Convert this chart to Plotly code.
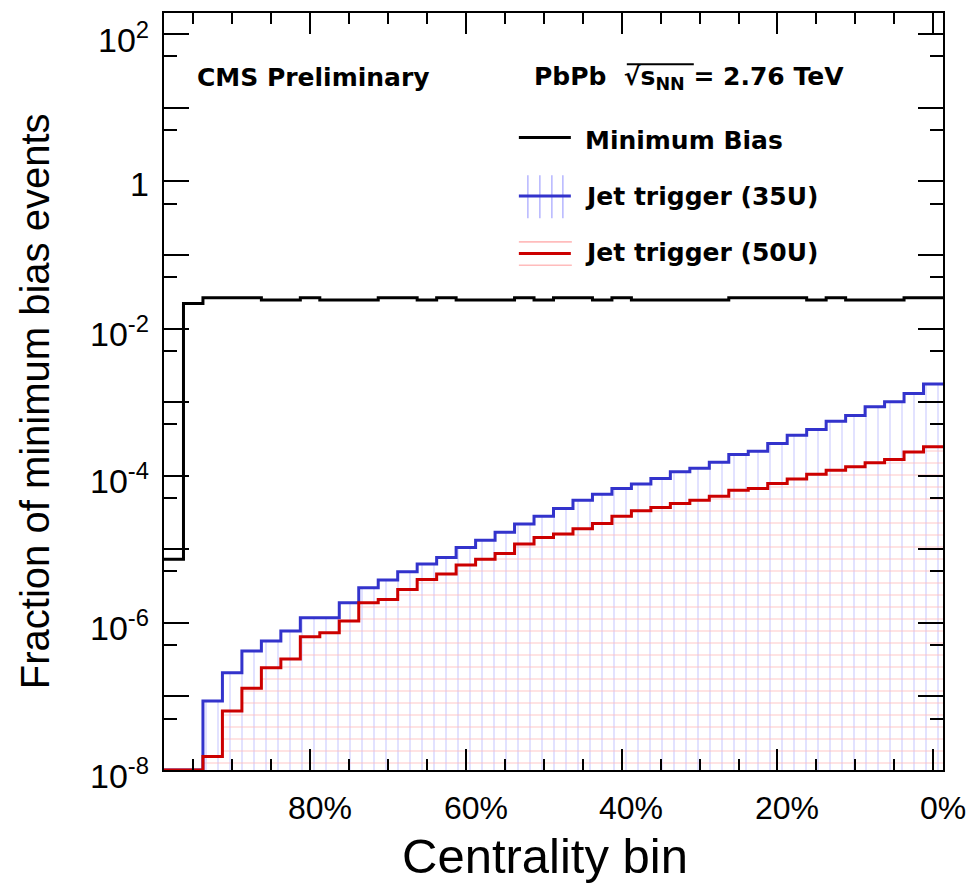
import plotly.graph_objects as go

# ---------------- data ----------------
n_bins = 40
bin_width = 2.5  # % centrality per bin
bin_edges = [100 - bin_width * i for i in range(n_bins + 1)]   # 100% ... 0%
bin_centers = [e - bin_width / 2 for e in bin_edges[:-1]]

min_bias = [7.3e-6, 0.0219,
            0.0262, 0.0262, 0.0262, 0.0245, 0.0245, 0.0262, 0.0245, 0.0245,
            0.0245, 0.0262, 0.0262, 0.0245, 0.0262, 0.0245, 0.0245, 0.0245,
            0.0262, 0.0245, 0.0262, 0.0262, 0.0245, 0.0262, 0.0245, 0.0245,
            0.0245, 0.0245, 0.0245, 0.0262, 0.0262, 0.0262, 0.0262, 0.0245,
            0.0262, 0.0245, 0.0245, 0.0245, 0.0262, 0.0262]

jet35 = [0, 0, 8.66e-8, 2.10e-7, 4.14e-7, 5.66e-7, 7.74e-7, 1.17e-6, 1.17e-6,
         1.87e-6, 3.0e-6, 3.82e-6, 4.94e-6, 6.3e-6, 7.76e-6, 1.06e-5, 1.33e-5,
         1.70e-5, 2.20e-5, 2.82e-5, 3.6e-5, 4.66e-5, 5.62e-5, 6.7e-5, 7.7e-5,
         9.2e-5, 1.13e-4, 1.26e-4, 1.52e-4, 1.95e-4, 2.16e-4, 2.75e-4, 3.56e-4,
         4.26e-4, 5.52e-4, 6.59e-4, 8.63e-4, 1.01e-3, 1.31e-3, 1.76e-3]

jet50 = [0, 0, 1.52e-8, 6.34e-8, 1.29e-7, 2.45e-7, 3.22e-7, 6.47e-7, 7.33e-7,
         1.06e-6, 1.87e-6, 2.08e-6, 2.85e-6, 3.9e-6, 4.6e-6, 6.1e-6, 7.3e-6,
         8.8e-6, 1.18e-5, 1.45e-5, 1.61e-5, 1.91e-5, 2.25e-5, 2.82e-5, 3.33e-5,
         3.71e-5, 4.2e-5, 4.66e-5, 5.28e-5, 6.37e-5, 6.71e-5, 7.85e-5, 9.0e-5,
         1.05e-4, 1.19e-4, 1.32e-4, 1.5e-4, 1.66e-4, 2.11e-4, 2.47e-4]

x_labels = ["80%", "60%", "40%", "20%", "0%"]
x_label_vals = [80, 60, 40, 20, 0]
y_decades = [-8, -7, -6, -5, -4, -3, -2, -1, 0, 1, 2]
y_label_decades = [-8, -6, -4, -2, 0, 2]
y_labels = ["10<sup>-8</sup>", "10<sup>-6</sup>", "10<sup>-4</sup>",
            "10<sup>-2</sup>", "1", "10<sup>2</sup>"]

series_names = ["Minimum Bias", "Jet trigger (35U)", "Jet trigger (50U)"]

# ---------------- style ----------------
Y_LOG_MIN, Y_LOG_MAX = -8, 2.29
Y_FLOOR = 10 ** Y_LOG_MIN
BLACK, BLUE, RED = "#000000", "#3333cc", "#cc0000"
BLUE_HATCH, RED_HATCH = "#babaff", "#ffbcbc"
SANS = "Liberation Sans, Arial, Helvetica, sans-serif"
BOLD = "DejaVu Sans, Verdana, sans-serif"

W, H = 972, 891
L, R, T, B = 164, 943.3, 12.7, 770


def fx(x):
    return (x - L) / (R - L)


def fy(y):
    return (B - y) / (B - T)


def step_xy(values):
    ys = [v if v > 0 else Y_FLOOR for v in values]
    return bin_edges, ys + [ys[-1]]


fig = go.Figure()

# hatched fills
fig.add_trace(go.Bar(
    x=bin_centers, y=[v if v > 0 else None for v in jet35], width=bin_width,
    marker=dict(color="rgba(0,0,0,0)", line=dict(width=0),
                pattern=dict(shape="|", size=12, solidity=0.14, fgcolor=BLUE_HATCH,
                             bgcolor="rgba(0,0,0,0)")),
    showlegend=False, hoverinfo="skip"))
fig.add_trace(go.Bar(
    x=bin_centers, y=[v if v > 0 else None for v in jet50], width=bin_width,
    marker=dict(color="rgba(0,0,0,0)", line=dict(width=0),
                pattern=dict(shape="-", size=12, solidity=0.14, fgcolor=RED_HATCH,
                             bgcolor="rgba(0,0,0,0)")),
    showlegend=False, hoverinfo="skip"))

# step outlines
for vals, col, name in [(min_bias, BLACK, series_names[0]),
                        (jet35, BLUE, series_names[1]),
                        (jet50, RED, series_names[2])]:
    xs, ys = step_xy(vals)
    fig.add_trace(go.Scatter(x=xs, y=ys, mode="lines", line_shape="hv",
                             line=dict(color=col, width=3), name=name,
                             showlegend=False))

x_major = [81.25, 61.25, 41.25, 21.25, 1.25]
x_minor = [96.25 - 5 * k for k in range(20)]
y_minor = [5 * 10 ** d for d in y_decades]

fig.update_layout(
    width=W, height=H,
    margin=dict(l=L, r=W - R, t=T, b=H - B, autoexpand=False),
    paper_bgcolor="white", plot_bgcolor="white",
    barmode="overlay", bargap=0,
    xaxis=dict(range=[100, 0], showgrid=False, zeroline=False,
               showline=True, linecolor="black", linewidth=2, mirror="ticks",
               ticks="inside", ticklen=21, tickwidth=2, tickcolor="black",
               tickmode="array", tickvals=x_major, showticklabels=False,
               minor=dict(tickmode="array", tickvals=x_minor, ticks="inside",
                          ticklen=11, tickwidth=2, tickcolor="black", showgrid=False)),
    yaxis=dict(type="log", range=[Y_LOG_MIN, Y_LOG_MAX], showgrid=False, zeroline=False,
               showline=True, linecolor="black", linewidth=2, mirror="ticks",
               ticks="inside", ticklen=25, tickwidth=2, tickcolor="black",
               tickmode="array", tickvals=[10 ** d for d in y_decades],
               showticklabels=False,
               minor=dict(tickmode="array", tickvals=y_minor, ticks="inside",
                          ticklen=13, tickwidth=2, tickcolor="black", showgrid=False)),
    showlegend=False,
)

ann = []
# y tick labels
for d, t in zip(y_label_decades, y_labels):
    ann.append(dict(x=fx(151), xref="paper", y=d, yref="y", text=t, showarrow=False,
                    xanchor="right", yanchor="middle", yshift=-3,
                    font=dict(family=SANS, size=34, color="black")))
# x tick labels
for v, t in zip(x_label_vals, x_labels):
    ann.append(dict(x=v, xref="x", y=fy(808), yref="paper", text=t, showarrow=False,
                    xanchor="center", yanchor="middle",
                    font=dict(family=SANS, size=32, color="black")))
ann.append(dict(x=fx(545), y=fy(856), xref="paper", yref="paper", text="Centrality bin",
                showarrow=False, xanchor="center", yanchor="middle",
                font=dict(family=SANS, size=49, color="black")))
ann.append(dict(x=fx(35), y=fy(401), xref="paper", yref="paper",
                text="Fraction of minimum bias events", textangle=-90,
                showarrow=False, xanchor="center", yanchor="middle",
                font=dict(family=SANS, size=40, color="black")))
bold = dict(family=BOLD, size=25, color="black", weight="bold")
ann.append(dict(x=fx(195), y=fy(77), xref="paper", yref="paper", text="CMS Preliminary",
                showarrow=False, xanchor="left", yanchor="middle", font=bold))
ann.append(dict(x=fx(532), y=fy(78), xref="paper", yref="paper",
                text="PbPb  √s<sub>NN</sub> = 2.76 TeV",
                showarrow=False, xanchor="left", yanchor="middle", font=bold))
for name, yc in zip(series_names, [140, 196, 252]):
    ann.append(dict(x=fx(583), y=fy(yc), xref="paper", yref="paper", text=name,
                    showarrow=False, xanchor="left", yanchor="middle", font=bold))
fig.update_layout(annotations=ann)

shapes = []
# radical bar over s_NN
shapes.append(dict(type="line", xref="paper", yref="paper", x0=fx(627), x1=fx(694),
                   y0=fy(64), y1=fy(64), line=dict(color=BLACK, width=2)))
# legend symbols
shapes.append(dict(type="line", xref="paper", yref="paper", x0=fx(519), x1=fx(571),
                   y0=fy(137.3), y1=fy(137.3), line=dict(color=BLACK, width=3)))
for xh in [528, 540, 552, 563]:
    shapes.append(dict(type="line", xref="paper", yref="paper", x0=fx(xh), x1=fx(xh),
                       y0=fy(175), y1=fy(218), line=dict(color=BLUE_HATCH, width=1.6)))
shapes.append(dict(type="line", xref="paper", yref="paper", x0=fx(519), x1=fx(571),
                   y0=fy(195.7), y1=fy(195.7), line=dict(color=BLUE, width=3)))
for yh in [241.7, 265]:
    shapes.append(dict(type="line", xref="paper", yref="paper", x0=fx(519), x1=fx(572),
                       y0=fy(yh), y1=fy(yh), line=dict(color=RED_HATCH, width=1.6)))
shapes.append(dict(type="line", xref="paper", yref="paper", x0=fx(519), x1=fx(571),
                   y0=fy(253.3), y1=fy(253.3), line=dict(color=RED, width=3)))
fig.update_layout(shapes=shapes)

fig.write_html("out.html")
